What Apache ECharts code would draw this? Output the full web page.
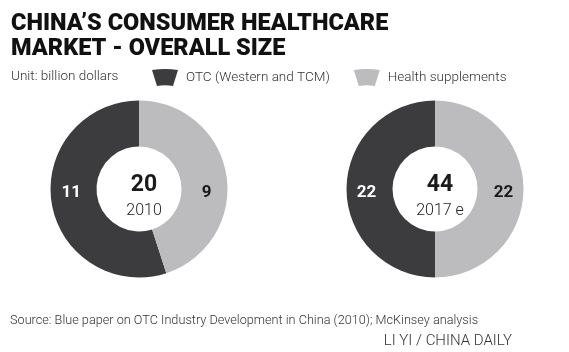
<!DOCTYPE html>
<html><head><meta charset="utf-8">
<script src="https://cdn.jsdelivr.net/npm/echarts@6/dist/echarts.min.js"></script>
<style>html,body{margin:0;padding:0;background:#fff}#c{width:569px;height:352px}</style>
</head><body><div id="c"></div>
<script>
const categories = ['OTC (Western and TCM)', 'Health supplements'];
const years = ['2010', '2017 e'];
const otc = [11, 22];
const supplements = [9, 22];
const totals = [20, 44];

const DARK = '#3c3c3e', LIGHT = '#bcbcbe';
const centers = [[139, 189], [435, 189]];
const chart = echarts.init(document.getElementById('c'));
const FONT = 'Roboto';

function pieSeries(i) {
  const cy = centers[i][1];
  return {
    type: 'pie', name: years[i], center: centers[i], radius: [42.5, 88.5],
    startAngle: 90, clockwise: false, silent: true,
    itemStyle: { borderWidth: 0 },
    label: { show: true, position: 'inside', fontFamily: FONT, fontWeight: 'bold', fontSize: 17,
      formatter: '{c}' },
    labelLine: { show: false },
    labelLayout: function (p) {
      return { y: cy + 4, verticalAlign: 'middle' };
    },
    data: [
      { name: categories[0], value: otc[i], itemStyle: { color: DARK }, label: { color: '#fff' } },
      { name: categories[1], value: supplements[i], itemStyle: { color: LIGHT }, label: { color: '#1a1a1a' } }
    ]
  };
}

const wedge = 'path://M0,1 Q13,-1 26,1 L21,17 Q13,15.5 5,17 Z';
chart.setOption({
  animation: false,
  title: [
    { text: 'CHINA\u2019S CONSUMER HEALTHCARE\nMARKET - OVERALL SIZE', left: 6, top: 7,
      textStyle: { fontFamily: FONT, fontWeight: 900, fontSize: 23.5, lineHeight: 25, color: '#111' } },
    { text: 'Unit: billion dollars', left: 6, top: 65,
      textStyle: { fontFamily: FONT, fontWeight: 300, fontSize: 13.5, color: '#333' } },
    { text: String(totals[0]), left: centers[0][0], top: 169, textAlign: 'center',
      textStyle: { fontFamily: FONT, fontWeight: 'bold', fontSize: 23, color: '#1a1a1a' } },
    { text: years[0], left: centers[0][0], top: 198, textAlign: 'center',
      textStyle: { fontFamily: FONT, fontWeight: 300, fontSize: 16, color: '#222' } },
    { text: String(totals[1]), left: centers[1][0], top: 169, textAlign: 'center',
      textStyle: { fontFamily: FONT, fontWeight: 'bold', fontSize: 23, color: '#1a1a1a' } },
    { text: years[1], left: centers[1][0], top: 198, textAlign: 'center',
      textStyle: { fontFamily: FONT, fontWeight: 300, fontSize: 16, color: '#222' } },
    { text: 'Source: Blue paper on OTC Industry Development in China (2010); McKinsey analysis', left: 5, top: 309,
      textStyle: { fontFamily: FONT, fontWeight: 300, fontSize: 12.7, color: '#333' } },
    { text: 'LI YI / CHINA DAILY', right: 52, top: 329,
      textStyle: { fontFamily: FONT, fontWeight: 300, fontSize: 15, color: '#333' } }
  ],
  legend: {
    left: 147, top: 64, itemWidth: 26, itemHeight: 17, itemGap: 24, icon: wedge,
    data: categories, selectedMode: false,
    textStyle: { fontFamily: FONT, fontWeight: 300, fontSize: 13.5, color: '#333', padding: [0, 0, 0, 3] }
  },
  series: [pieSeries(0), pieSeries(1)]
});
</script></body></html>
